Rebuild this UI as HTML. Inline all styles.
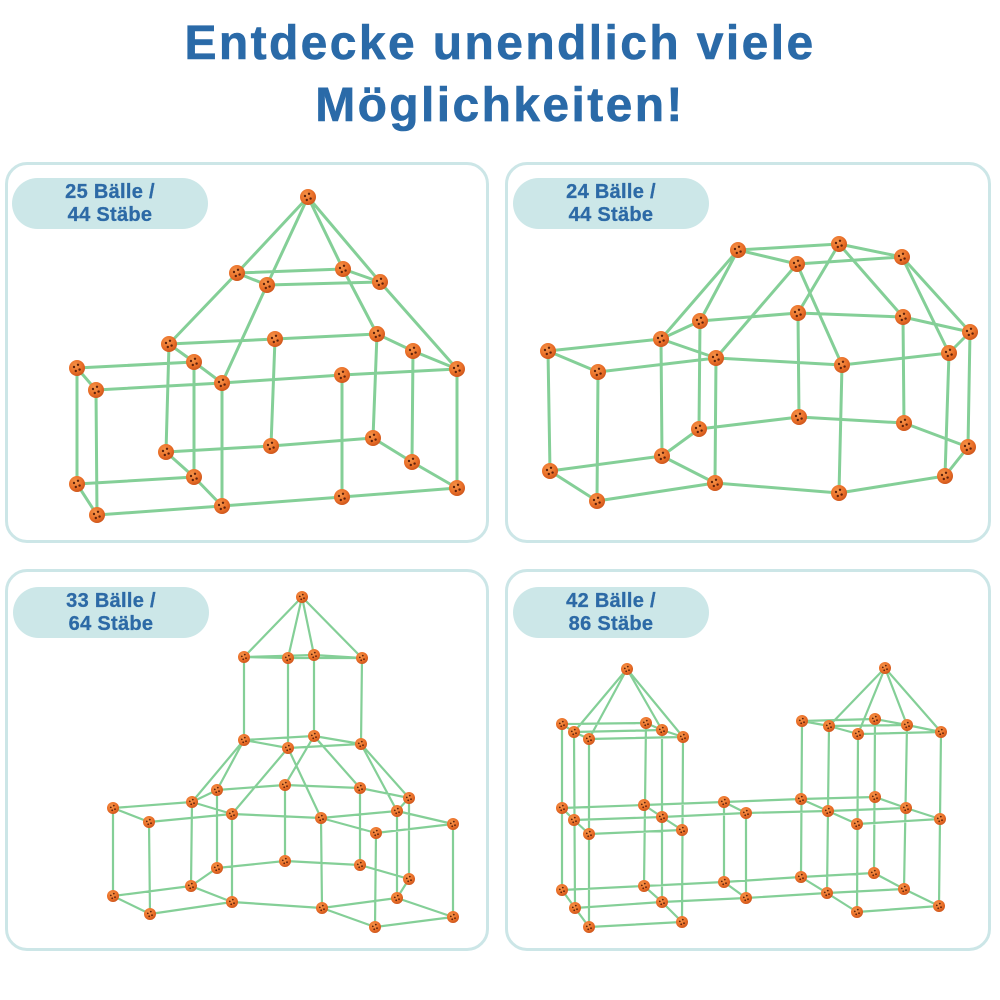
<!DOCTYPE html>
<html><head><meta charset="utf-8"><style>
html,body{margin:0;padding:0;background:#fff;}
body{width:1000px;height:1000px;position:relative;overflow:hidden;font-family:"Liberation Sans",sans-serif;}
.title{position:absolute;left:0;top:13px;width:1000px;text-align:center;font-weight:bold;font-size:48px;line-height:62px;letter-spacing:2.4px;color:#2a6aa8;-webkit-text-stroke:0.6px #2a6aa8;}
.panel{position:absolute;box-sizing:border-box;border:3px solid #cce6e7;border-radius:22px;background:#fff;}
.pill{position:absolute;width:196px;height:51px;border-radius:26px;background:#cce7e8;color:#2d6aa6;font-weight:bold;font-size:20px;line-height:23px;letter-spacing:0.3px;text-align:center;box-sizing:border-box;padding-top:3px;-webkit-text-stroke:0.3px #2d6aa6;}
svg{position:absolute;left:0;top:0;}
</style></head><body>
<div class="title">Entdecke unendlich viele<br>Möglichkeiten!</div>
<div class="panel" style="left:5px;top:162px;width:484px;height:381px;"></div>
<div class="panel" style="left:505px;top:162px;width:486px;height:381px;"></div>
<div class="panel" style="left:5px;top:569px;width:484px;height:382px;"></div>
<div class="panel" style="left:505px;top:569px;width:486px;height:382px;"></div>
<div class="pill" style="left:12px;top:178px;">25 Bälle /<br>44 Stäbe</div>
<div class="pill" style="left:513px;top:178px;">24 Bälle /<br>44 Stäbe</div>
<div class="pill" style="left:13px;top:587px;">33 Bälle /<br>64 Stäbe</div>
<div class="pill" style="left:513px;top:587px;">42 Bälle /<br>86 Stäbe</div>
<svg width="1000" height="1000" viewBox="0 0 1000 1000">
<defs>
<radialGradient id="og" cx="0.4" cy="0.35" r="0.7">
<stop offset="0" stop-color="#f6954a"/><stop offset="0.6" stop-color="#ea6f28"/><stop offset="1" stop-color="#c9521a"/>
</radialGradient>
<g id="B"><circle r="8" fill="url(#og)"/><circle cx="-3" cy="-1" r="1.2" fill="#5e220c"/><circle cx="1" cy="-3.2" r="1.2" fill="#5e220c"/><circle cx="2.6" cy="1.6" r="1.2" fill="#5e220c"/><circle cx="-1.2" cy="3" r="1.2" fill="#5e220c"/></g>
<g id="b"><circle r="6" fill="url(#og)"/><circle cx="-2.2" cy="-0.6" r="0.9" fill="#5e220c"/><circle cx="0.8" cy="-2.4" r="0.9" fill="#5e220c"/><circle cx="2" cy="1.2" r="0.9" fill="#5e220c"/><circle cx="-0.8" cy="2.3" r="0.9" fill="#5e220c"/></g>
</defs>
<g fill="none" stroke="#84cf97" stroke-width="3" stroke-linecap="round" stroke-linejoin="round">
<path d="M308,197L237,273 M308,197L267,285 M308,197L343,269 M308,197L380,282 M237,273L343,269 M267,285L380,282 M237,273L267,285 M343,269L380,282 M237,273L169,344 M267,285L222,383 M343,269L377,334 M380,282L457,369 M169,344L275,339L377,334L413,351L457,369 M169,344L194,362L222,383L342,375L457,369 M77,368L194,362 M96,390L222,383 M77,368L96,390 M77,368L77,484 M96,390L97,515 M194,362L194,477 M222,383L222,506 M342,375L342,497 M457,369L457,488 M169,344L166,452 M275,339L271,446 M377,334L373,438 M413,351L412,462 M77,484L194,477 M97,515L222,506L342,497L457,488 M77,484L97,515 M166,452L194,477L222,506 M166,452L271,446L373,438L412,462L457,488"/>
<path d="M738,250L839,244L902,257L797,264Z M738,250L661,339 M738,250L700,321 M797,264L716,358 M839,244L798,313 M797,264L842,365 M839,244L903,317 M902,257L970,332 M902,257L949,353 M661,339L700,321L798,313L903,317L970,332 M548,351L661,339L716,358L842,365L949,353L970,332 M548,351L598,372L716,358 M548,351L550,471 M598,372L597,501 M661,339L662,456 M716,358L715,483 M798,313L799,417 M842,365L839,493 M903,317L904,423 M949,353L945,476 M970,332L968,447 M700,321L699,429 M662,456L550,471L597,501L715,483L662,456L699,429L799,417L904,423L968,447L945,476L839,493L715,483"/>
</g>
<g fill="none" stroke="#84cf97" stroke-width="2.2" stroke-linecap="round" stroke-linejoin="round">
<path d="M302,597L244,657 M302,597L288,658 M302,597L314,655 M302,597L362,658 M244,657L288,658L362,658L314,655Z M244,657L244,740 M288,658L288,748 M314,655L314,736 M362,658L361,744 M244,740L288,748L361,744L314,736Z M244,740L217,790 M244,740L192,802 M288,748L232,814 M288,748L321,818 M314,736L285,785 M361,744L409,798 M361,744L397,811 M314,736L360,788 M192,802L217,790L285,785L360,788L409,798L397,811L321,818L232,814L192,802Z M113,808L192,802 M113,808L149,822L232,814 M321,818L376,833L453,824L397,811 M113,808L113,896 M149,822L150,914 M192,802L191,886 M217,790L217,868 M232,814L232,902 M285,785L285,861 M321,818L322,908 M360,788L360,865 M409,798L409,879 M397,811L397,898 M376,833L375,927 M453,824L453,917 M113,896L191,886L217,868L285,861L360,865L409,879L397,898L322,908L232,902L191,886 M113,896L150,914L232,902 M322,908L375,927L453,917L397,898"/>
<path d="M627,669L574,732 M627,669L589,739 M627,669L662,730 M627,669L683,737 M562,724L574,732L589,739L683,737L662,730L646,723L562,724 M574,732L662,730 M562,808L574,820L589,834L682,830L662,817L644,805L562,808 M574,820L662,817 M562,890L575,908L589,927L682,922L662,902L644,886L562,890 M575,908L662,902 M562,724L562,890 M574,732L575,908 M589,739L589,927 M646,723L644,886 M662,730L662,902 M683,737L682,922 M644,805L724,802L801,799 M662,817L746,813L828,811 M724,802L746,813 M644,886L724,882L801,877 M662,902L746,898L827,893 M724,882L746,898 M724,802L724,882 M746,813L746,898 M885,668L829,726 M885,668L858,734 M885,668L907,725 M885,668L941,732 M802,721L829,726L858,734L941,732L907,725L875,719L802,721 M829,726L907,725 M801,799L828,811L857,824L940,819L906,808L875,797L801,799 M828,811L906,808 M801,877L827,893L857,912L939,906L904,889L874,873L801,877 M827,893L904,889 M802,721L801,877 M829,726L827,893 M858,734L857,912 M875,719L874,873 M907,725L904,889 M941,732L939,906"/>
</g>
<g>
<use href="#B" x="308" y="197"/><use href="#B" x="237" y="273"/><use href="#B" x="343" y="269"/><use href="#B" x="267" y="285"/><use href="#B" x="380" y="282"/><use href="#B" x="169" y="344"/><use href="#B" x="275" y="339"/><use href="#B" x="377" y="334"/><use href="#B" x="413" y="351"/><use href="#B" x="457" y="369"/><use href="#B" x="77" y="368"/><use href="#B" x="194" y="362"/><use href="#B" x="96" y="390"/><use href="#B" x="222" y="383"/><use href="#B" x="342" y="375"/><use href="#B" x="166" y="452"/><use href="#B" x="271" y="446"/><use href="#B" x="373" y="438"/><use href="#B" x="412" y="462"/><use href="#B" x="77" y="484"/><use href="#B" x="194" y="477"/><use href="#B" x="457" y="488"/><use href="#B" x="222" y="506"/><use href="#B" x="342" y="497"/><use href="#B" x="97" y="515"/>
<use href="#B" x="738" y="250"/><use href="#B" x="839" y="244"/><use href="#B" x="797" y="264"/><use href="#B" x="902" y="257"/><use href="#B" x="700" y="321"/><use href="#B" x="798" y="313"/><use href="#B" x="903" y="317"/><use href="#B" x="970" y="332"/><use href="#B" x="661" y="339"/><use href="#B" x="716" y="358"/><use href="#B" x="842" y="365"/><use href="#B" x="949" y="353"/><use href="#B" x="548" y="351"/><use href="#B" x="598" y="372"/><use href="#B" x="699" y="429"/><use href="#B" x="799" y="417"/><use href="#B" x="904" y="423"/><use href="#B" x="968" y="447"/><use href="#B" x="662" y="456"/><use href="#B" x="550" y="471"/><use href="#B" x="715" y="483"/><use href="#B" x="945" y="476"/><use href="#B" x="839" y="493"/><use href="#B" x="597" y="501"/>
<use href="#b" x="302" y="597"/><use href="#b" x="244" y="657"/><use href="#b" x="288" y="658"/><use href="#b" x="314" y="655"/><use href="#b" x="362" y="658"/><use href="#b" x="244" y="740"/><use href="#b" x="288" y="748"/><use href="#b" x="314" y="736"/><use href="#b" x="361" y="744"/><use href="#b" x="217" y="790"/><use href="#b" x="285" y="785"/><use href="#b" x="360" y="788"/><use href="#b" x="409" y="798"/><use href="#b" x="192" y="802"/><use href="#b" x="232" y="814"/><use href="#b" x="321" y="818"/><use href="#b" x="397" y="811"/><use href="#b" x="113" y="808"/><use href="#b" x="149" y="822"/><use href="#b" x="376" y="833"/><use href="#b" x="453" y="824"/><use href="#b" x="217" y="868"/><use href="#b" x="285" y="861"/><use href="#b" x="360" y="865"/><use href="#b" x="409" y="879"/><use href="#b" x="191" y="886"/><use href="#b" x="113" y="896"/><use href="#b" x="232" y="902"/><use href="#b" x="322" y="908"/><use href="#b" x="397" y="898"/><use href="#b" x="150" y="914"/><use href="#b" x="453" y="917"/><use href="#b" x="375" y="927"/>
<use href="#b" x="627" y="669"/><use href="#b" x="562" y="724"/><use href="#b" x="574" y="732"/><use href="#b" x="589" y="739"/><use href="#b" x="646" y="723"/><use href="#b" x="662" y="730"/><use href="#b" x="683" y="737"/><use href="#b" x="562" y="808"/><use href="#b" x="574" y="820"/><use href="#b" x="589" y="834"/><use href="#b" x="644" y="805"/><use href="#b" x="662" y="817"/><use href="#b" x="682" y="830"/><use href="#b" x="562" y="890"/><use href="#b" x="575" y="908"/><use href="#b" x="589" y="927"/><use href="#b" x="644" y="886"/><use href="#b" x="662" y="902"/><use href="#b" x="682" y="922"/><use href="#b" x="724" y="802"/><use href="#b" x="746" y="813"/><use href="#b" x="724" y="882"/><use href="#b" x="746" y="898"/><use href="#b" x="885" y="668"/><use href="#b" x="802" y="721"/><use href="#b" x="829" y="726"/><use href="#b" x="858" y="734"/><use href="#b" x="875" y="719"/><use href="#b" x="907" y="725"/><use href="#b" x="941" y="732"/><use href="#b" x="801" y="799"/><use href="#b" x="828" y="811"/><use href="#b" x="857" y="824"/><use href="#b" x="875" y="797"/><use href="#b" x="906" y="808"/><use href="#b" x="940" y="819"/><use href="#b" x="801" y="877"/><use href="#b" x="827" y="893"/><use href="#b" x="857" y="912"/><use href="#b" x="874" y="873"/><use href="#b" x="904" y="889"/><use href="#b" x="939" y="906"/>
</g>
</svg>
</body></html>
